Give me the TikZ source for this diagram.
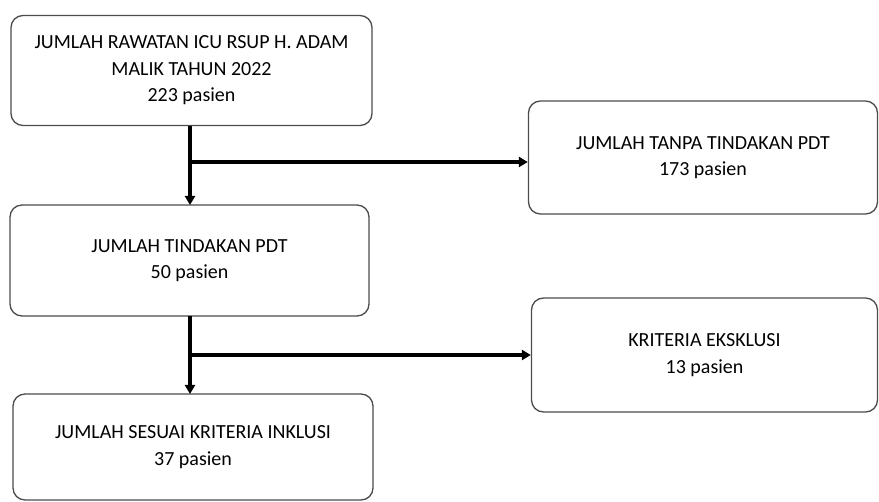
\documentclass[tikz,border=0pt]{standalone}
\usepackage{fontspec}
\setmainfont{Carlito}
\usetikzlibrary{arrows.meta}
\tikzset{
  box/.style={draw=black!70, line width=1.3pt, rounded corners=12pt, align=center,
    inner sep=0pt, font=\fontsize{20}{26.5}\selectfont},
  flow/.style={line width=3.2pt, -{Triangle[length=9pt,width=10pt]}}
}

\begin{document}
\begin{tikzpicture}[x=1pt, y=-1pt]
			%%%%% START %%%%%
			\useasboundingbox (0, 0) rectangle (879, 502);
			
			% left column
			\node[box, minimum width=361pt, minimum height=110pt] (rawat) at (191.5, 70.5) {JUMLAH RAWATAN ICU RSUP H. ADAM\\MALIK TAHUN 2022\\223 pasien};
			\node[box, minimum width=359pt, minimum height=111pt] (tindak) at (189.5, 260.5) {JUMLAH TINDAKAN PDT\\50 pasien};
			\node[box, minimum width=360pt, minimum height=106pt] (inklusi) at (193, 447) {JUMLAH SESUAI KRITERIA INKLUSI\\37 pasien};
			
			% right column
			\node[box, minimum width=349pt, minimum height=113pt] (tanpa) at (703, 157.5) {JUMLAH TANPA TINDAKAN PDT\\173 pasien};
			\node[box, minimum width=346pt, minimum height=114pt] (eksklusi) at (704.5, 355) {KRITERIA EKSKLUSI\\13 pasien};
			
			% connectors
			\coordinate (cab1) at (190, 162);
			\coordinate (cab2) at (190, 355);
			\draw[flow] (190, 126) -- (190, 205);
			\draw[flow] (cab1) -- (cab1 -| tanpa.west);
			\draw[flow] (190, 316) -- (190, 394);
			\draw[flow] (cab2) -- (cab2 -| eksklusi.west);
			
			%%%%% END %%%%%
		\end{tikzpicture}
\end{document}
